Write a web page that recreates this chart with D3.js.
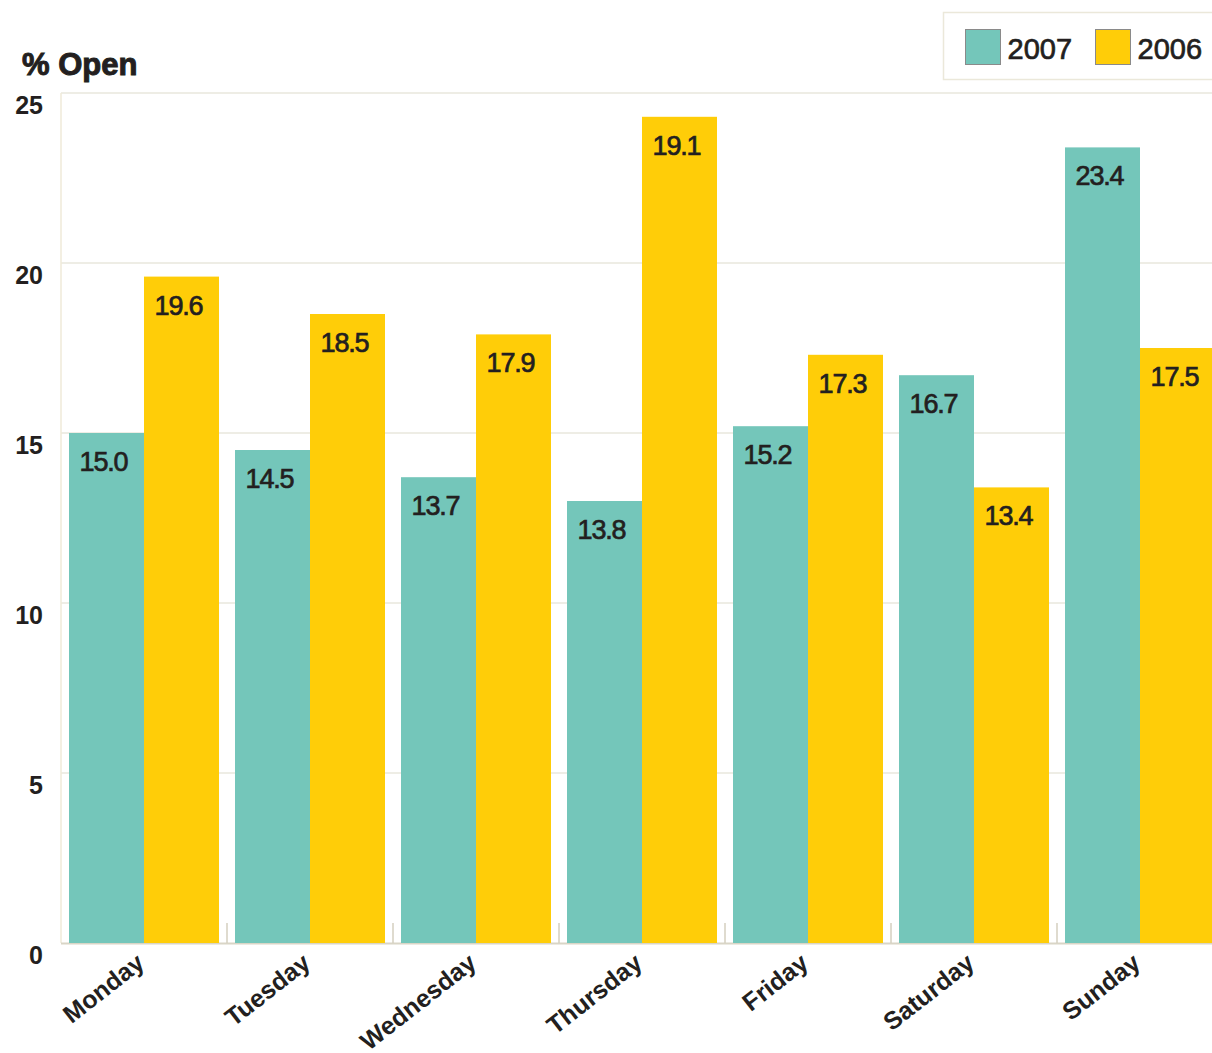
<!DOCTYPE html>
<html><head><meta charset="utf-8">
<script src="https://cdn.jsdelivr.net/npm/d3@7"></script>
<style>
html,body{margin:0;padding:0;background:#fff;}
svg{display:block;}
text{font-family:"Liberation Sans",Arial,Helvetica,sans-serif;}
</style></head>
<body>
<svg id="chart" width="1212" height="1053"></svg>
<script>
const days = ["Monday","Tuesday","Wednesday","Thursday","Friday","Saturday","Sunday"];
const seriesNames = ["2007","2006"];
const values2007 = [15.0,14.5,13.7,13.0,15.2,16.7,23.4];
const values2006 = [19.6,18.5,17.9,24.3,17.3,13.4,17.5];
const labels2007 = ["15.0","14.5","13.7","13.8","15.2","16.7","23.4"];
const labels2006 = ["19.6","18.5","17.9","19.1","17.3","13.4","17.5"];
const yTicks = [0,5,10,15,20,25];
const colors = ["#74c6ba","#ffcd08"];

const svg = d3.select("#chart");
const plotLeft = 61, plotBottom = 943, plotTop = 93;
const ink = "#231f20";
const x = d3.scaleBand().domain(days).range([plotLeft, 1223]).paddingInner(0.0964).paddingOuter(0.0482);
const xi = d3.scaleBand().domain(seriesNames).range([0, x.bandwidth()]);
const y = d3.scaleLinear().domain([0,25]).range([plotBottom, plotTop]);

// gridlines
svg.append("g").selectAll("line").data(yTicks.filter(d=>d>0)).join("line")
  .attr("x1", plotLeft).attr("x2", 1212).attr("y1", d=>y(d)).attr("y2", d=>y(d))
  .attr("stroke","#e9e7dd").attr("stroke-width",1.5);
// left axis line
svg.append("line").attr("x1",plotLeft).attr("x2",plotLeft).attr("y1",plotTop).attr("y2",plotBottom)
  .attr("stroke","#efead8").attr("stroke-width",1.5);
// bottom axis line
svg.append("line").attr("x1",plotLeft).attr("x2",1212).attr("y1",plotBottom+0.5).attr("y2",plotBottom+0.5)
  .attr("stroke","#d9d5c6").attr("stroke-width",2);
// separator ticks
svg.append("g").selectAll("line").data(days.slice(1)).join("line")
  .attr("x1", d=>x(d)-x.step()*x.paddingInner()/2).attr("x2", d=>x(d)-x.step()*x.paddingInner()/2)
  .attr("y1", plotBottom-20).attr("y2", plotBottom)
  .attr("stroke","#d4cfbf").attr("stroke-width",1.5);

// y tick labels
svg.append("g").selectAll("text").data(yTicks).join("text")
  .attr("x", 43).attr("y", d=>y(d)+21)
  .attr("text-anchor","end").attr("font-size",25).attr("font-weight","bold").attr("fill",ink)
  .text(d=>d);
svg.append("text").attr("x",22).attr("y",75).attr("font-size",31).attr("font-weight","bold")
  .attr("fill",ink).attr("stroke",ink).attr("stroke-width",1).text("% Open");

const rows = days.map((d,i)=>({day:d, vals:[
  {s:"2007", v:values2007[i], l:labels2007[i], c:colors[0]},
  {s:"2006", v:values2006[i], l:labels2006[i], c:colors[1]}]}));

const g = svg.append("g").selectAll("g").data(rows).join("g")
  .attr("transform", d=>`translate(${x(d.day)},0)`);
g.selectAll("rect").data(d=>d.vals).join("rect")
  .attr("x", d=>xi(d.s)).attr("width", xi.bandwidth())
  .attr("y", d=>y(d.v)).attr("height", d=>plotBottom - y(d.v))
  .attr("fill", d=>d.c);
g.selectAll("text").data(d=>d.vals).join("text")
  .attr("x", d=>xi(d.s)+xi.bandwidth()/2-3).attr("y", d=>y(d.v)+38)
  .attr("text-anchor","middle").attr("font-size",27).attr("fill",ink)
  .attr("stroke",ink).attr("stroke-width",0.7).attr("letter-spacing","-1.2")
  .text(d=>d.l);

// x labels
svg.append("g").selectAll("text").data(days).join("text")
  .attr("transform", d=>`translate(${x(d)+x.bandwidth()/2+2},966) rotate(-38)`)
  .attr("text-anchor","end").attr("font-size",25).attr("font-weight","bold").attr("fill",ink)
  .text(d=>d);

// legend
const lg = svg.append("g");
lg.append("rect").attr("x",943.5).attr("y",12.5).attr("width",290).attr("height",67)
  .attr("fill","#fff").attr("stroke","#ebe8da").attr("stroke-width",1.5);
const items = lg.selectAll("g").data(seriesNames).join("g")
  .attr("transform",(d,i)=>`translate(${965.5+i*130},29.5)`);
items.append("rect").attr("width",35).attr("height",35).attr("fill",(d,i)=>colors[i])
  .attr("stroke","#8a8a8a").attr("stroke-width",1);
items.append("text").attr("x",42).attr("y",29).attr("font-size",29).attr("fill",ink)
  .attr("stroke",ink).attr("stroke-width",0.7).text(d=>d);
</script>
</body></html>
